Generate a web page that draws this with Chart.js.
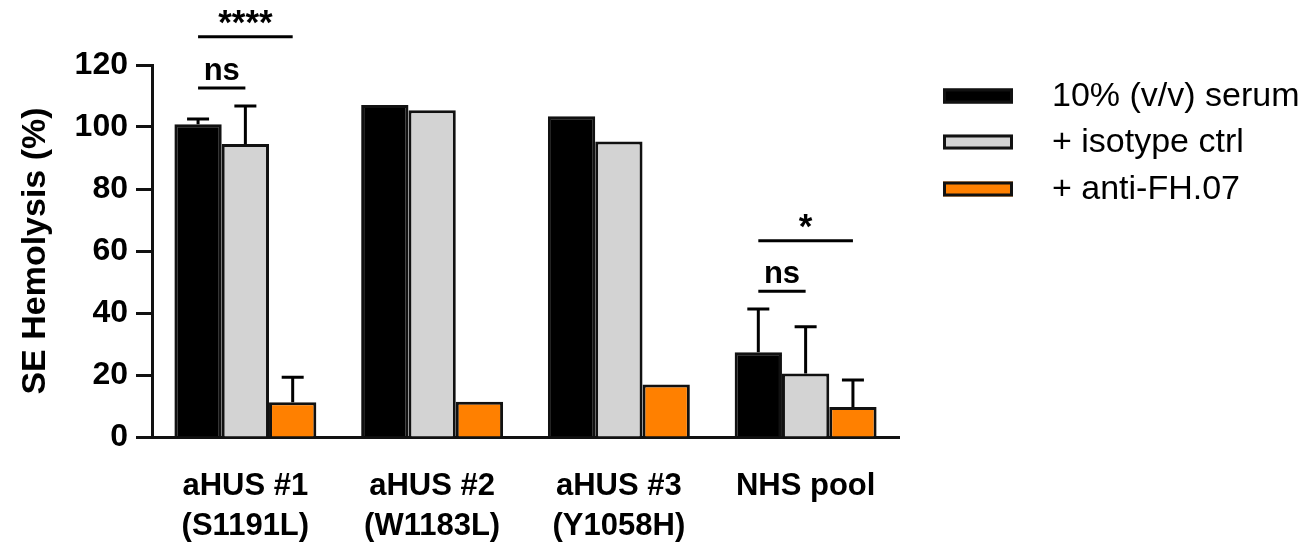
<!DOCTYPE html>
<html>
<head>
<meta charset="utf-8">
<script src="https://cdn.jsdelivr.net/npm/chart.js@4"></script>
<style>
  html, body { margin: 0; padding: 0; background: #fff; }
  #wrap { width: 1315px; height: 547px; }
</style>
</head>
<body>
<div id="wrap"><canvas id="hemoChart" width="1315" height="547"></canvas></div>
<script>
'use strict';

// Categories (two-line labels)
const categories = [
  ['aHUS #1', '(S1191L)'],
  ['aHUS #2', '(W1183L)'],
  ['aHUS #3', '(Y1058H)'],
  ['NHS pool']
];

// Series values (%)
const serumValues = [100.9, 107.1, 103.5, 27.3];
const isotypeValues = [94.5, 105.4, 95.3, 20.5];
const antiFhValues = [11.2, 11.4, 16.9, 9.7];

// Upper error (SD); null where no error bar is shown
const serumErrors = [1.7, null, null, 14.0];
const isotypeErrors = [12.3, null, null, 15.1];
const antiFhErrors = [8.1, null, null, 8.7];

const seriesNames = ['10% (v/v) serum', '+ isotype ctrl', '+ anti-FH.07'];
const seriesColors = ['#000000', '#d3d3d3', '#ff8000'];

// Y ticks
const yTicks = [0, 20, 40, 60, 80, 100, 120];

// Significance brackets: category, from dataset, to dataset, level (% units), label
const sigCategory = [0, 0, 3, 3];
const sigFrom = [0, 0, 0, 0];
const sigTo = [2, 1, 2, 1];
const sigLevel = [129.1, 112.6, 63.3, 47.0];
const sigLabel = ['****', 'ns', '*', 'ns'];

const allErrors = [serumErrors, isotypeErrors, antiFhErrors];
const FONT = '"Liberation Sans", Arial, sans-serif';

// Error bars (upper only)
const errorBarPlugin = {
  id: 'errorBars',
  afterDatasetsDraw(chart) {
    const ctx = chart.ctx;
    const y = chart.scales.y;
    ctx.save();
    ctx.strokeStyle = '#000';
    ctx.lineWidth = 3;
    chart.data.datasets.forEach((ds, di) => {
      const meta = chart.getDatasetMeta(di);
      meta.data.forEach((bar, i) => {
        const err = allErrors[di][i];
        if (err === null) return;
        const top = y.getPixelForValue(ds.data[i] + err);
        ctx.beginPath();
        ctx.moveTo(bar.x, bar.y);
        ctx.lineTo(bar.x, top);
        ctx.moveTo(bar.x - 11, top);
        ctx.lineTo(bar.x + 11, top);
        ctx.stroke();
      });
    });
    ctx.restore();
  }
};

// Significance lines and labels
const sigPlugin = {
  id: 'sigBrackets',
  afterDraw(chart) {
    const ctx = chart.ctx;
    const y = chart.scales.y;
    ctx.save();
    ctx.strokeStyle = '#000';
    ctx.fillStyle = '#000';
    ctx.lineWidth = 3;
    ctx.textAlign = 'center';
    ctx.textBaseline = 'alphabetic';
    sigLabel.forEach((label, k) => {
      const x1 = chart.getDatasetMeta(sigFrom[k]).data[sigCategory[k]].x;
      const x2 = chart.getDatasetMeta(sigTo[k]).data[sigCategory[k]].x;
      const py = y.getPixelForValue(sigLevel[k]);
      ctx.beginPath();
      ctx.moveTo(x1, py);
      ctx.lineTo(x2, py);
      ctx.stroke();
      const star = label.indexOf('*') >= 0;
      ctx.font = 'bold ' + (star ? 35 : 31) + 'px ' + FONT;
      ctx.fillText(label, (x1 + x2) / 2, py - (star ? 3 : 8));
    });
    ctx.restore();
  }
};

// Legend on the right
const legendPlugin = {
  id: 'sideLegend',
  afterDraw(chart) {
    const ctx = chart.ctx;
    ctx.save();
    const rowY = [96, 142, 189];
    seriesNames.forEach((name, i) => {
      ctx.fillStyle = seriesColors[i];
      ctx.fillRect(943, rowY[i] - 7.5, 70, 15);
      ctx.strokeStyle = '#111';
      ctx.lineWidth = 3;
      ctx.strokeRect(944.5, rowY[i] - 6, 67, 12);
      ctx.fillStyle = '#000';
      ctx.font = '34px ' + FONT;
      ctx.textAlign = 'left';
      ctx.textBaseline = 'middle';
      ctx.fillText(name, 1052, rowY[i] + 1);
    });
    ctx.restore();
  }
};

const valueSets = [serumValues, isotypeValues, antiFhValues];

new Chart(document.getElementById('hemoChart'), {
  type: 'bar',
  data: {
    labels: categories,
    datasets: valueSets.map((vals, i) => ({
      label: seriesNames[i],
      data: vals,
      backgroundColor: seriesColors[i],
      borderColor: '#111',
      borderWidth: 3,
      borderSkipped: 'bottom',
      categoryPercentage: 0.76,
      barPercentage: 1.0
    }))
  },
  options: {
    responsive: false,
    animation: false,
    layout: { padding: { top: 65, right: 416, left: 0, bottom: 0 } },
    plugins: {
      legend: { display: false },
      tooltip: { enabled: false }
    },
    scales: {
      x: {
        grid: { display: false, drawTicks: false },
        border: { color: '#111', width: 3 },
        ticks: {
          color: '#000',
          padding: 29,
          maxRotation: 0,
          font: { family: FONT, size: 31, weight: 'bold', lineHeight: 1.3 }
        },
        afterFit(scale) { scale.height = 110; }
      },
      y: {
        min: 0,
        max: 120,
        afterBuildTicks(scale) { scale.ticks = yTicks.map(v => ({ value: v })); },
        grid: { drawOnChartArea: false, drawTicks: true, tickLength: 16, tickWidth: 3, tickColor: '#111' },
        border: { color: '#111', width: 3 },
        ticks: {
          color: '#000',
          padding: 8,
          font: { family: FONT, size: 32, weight: 'bold' }
        },
        title: {
          display: true,
          text: 'SE Hemolysis (%)',
          color: '#000',
          padding: { top: 15, bottom: 0 },
          font: { family: FONT, size: 34, weight: 'bold', lineHeight: 1.2 }
        },
        afterFit(scale) { scale.width = 152; }
      }
    }
  },
  plugins: [errorBarPlugin, sigPlugin, legendPlugin]
});
</script>
</body>
</html>
